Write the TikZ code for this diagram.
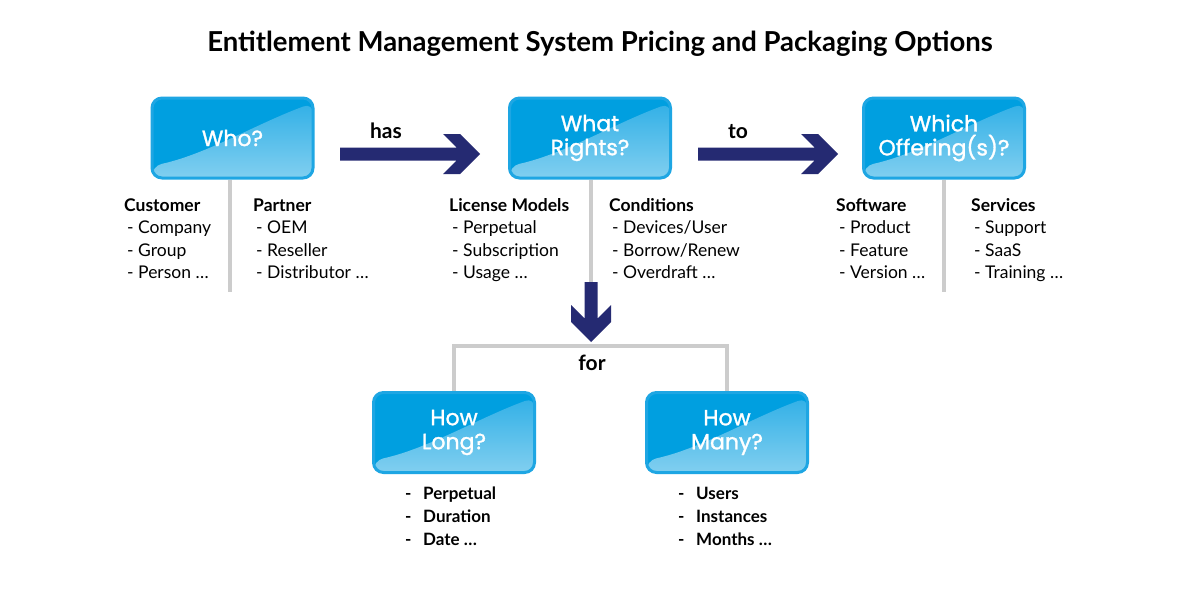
\documentclass[tikz,border=0pt]{standalone}
\usepackage{fontspec}
\setmainfont{Lato}
\newfontfamily\boxfont{Poppins}[FakeBold=1.3]
\usetikzlibrary{positioning,backgrounds}
\definecolor{boxblue}{HTML}{009FE0}
\definecolor{boxedge}{HTML}{1EA6E3}
\definecolor{glosstop}{HTML}{2CAEE6}
\definecolor{glossbot}{HTML}{84D0F0}
\definecolor{arrowblue}{HTML}{252A72}
\definecolor{stemgray}{HTML}{CCCCCC}
\def\makefatarrow#1#2{
  \begin{scope}[#1]
    \fill[arrowblue] (0,-6.5) -- (#2-23.5,-6.5) -- (#2-37,-20) -- (#2-20,-20)
      -- (#2,0) -- (#2-20,20) -- (#2-37,20) -- (#2-23.5,6.5) -- (0,6.5) -- cycle;
  \end{scope}
}
\tikzset{
  question/.style={draw=boxedge, line width=3pt, fill=boxblue, rounded corners=10pt,
    minimum width=161pt, minimum height=80pt, text=white, align=center,
    font=\boxfont\fontsize{22}{24}\selectfont,
    path picture={
      \fill[top color=glosstop, bottom color=glossbot]
        ([yshift=-3pt]path picture bounding box.south west)
        -- ([yshift=12pt]path picture bounding box.south west)
        .. controls +(55pt,12pt) and +(-55pt,-20pt) .. ([yshift=-5pt]path picture bounding box.north east)
        -- ([yshift=-3pt]path picture bounding box.south east) -- cycle;
    }},
  stem/.style={stemgray, line width=4pt},
  listcol/.style={anchor=north west, align=left, inner sep=0pt,
    font=\fontsize{17.5}{22.5}\selectfont},
  boldcol/.style={anchor=north west, align=left, inner sep=0pt,
    font=\bfseries\fontsize{17}{23}\selectfont},
  verb/.style={anchor=base, inner sep=0pt, font=\bfseries\fontsize{21}{24}\selectfont}
}
\def\dash{\makebox[18pt][l]{-}}
\begin{document}
\begin{tikzpicture}[x=1pt, y=-1pt]
  \begin{scope}[on background layer]
    \path[use as bounding box, fill=white] (0,0) rectangle (1200,600);
  \end{scope}

  \node[anchor=base, font=\bfseries\fontsize{27.5}{30}\selectfont] (title) at (600,51)
    {Entitlement Management System Pricing and Packaging Options};

  % the questions
  \node[question] (who) at (232.5,138) {Who?};
  \node[question] (rights) at (590,138) {What\\Rights?};
  \node[question] (offering) at (944,138) {Which\\Offering(s)?};
  \node[question] (howlong) at (454,432.5) {How\\Long?};
  \node[question] (howmany) at (727,432.5) {How\\Many?};

  \coordinate (whoend) at (230,292);
  \coordinate (rightsend) at (591,282);
  \coordinate (offeringend) at (944,292);
  \coordinate (forjoin) at (591,346);
  \coordinate (hasfrom) at (340,154);
  \coordinate (tofrom) at (698,154);

  \begin{scope}[on background layer]
    \draw[stem] (who.south -| whoend) -- (whoend);
    \draw[stem] (rights.south -| rightsend) -- (rightsend);
    \draw[stem] (offering.south -| offeringend) -- (offeringend);
    \draw[stem] (howlong.north) |- (forjoin) -| (howmany.north);
  \end{scope}

  % fat arrows
  \makefatarrow{shift={(hasfrom)}}{140}
  \makefatarrow{shift={(tofrom)}}{140}
  \makefatarrow{shift={(rightsend)},rotate=-90}{60}

  \node[verb] (has) at (386,138) {has};
  \node[verb] (to) at (738,138) {to};
  \node[verb] (for) at (592,370) {for};

  % the lists
  \node[listcol] (customer) at (124,195.25)
    {\strut\textbf{Customer}\\\hspace{3pt}- Company\\\hspace{3pt}- Group\\\hspace{3pt}- Person …};
  \node[listcol] (partner) at (253,195.25)
    {\strut\textbf{Partner}\\\hspace{3pt}- OEM\\\hspace{3pt}- Reseller\\\hspace{3pt}- Distributor …};
  \node[listcol] (licmodels) at (449,195.25)
    {\strut\textbf{License Models}\\\hspace{3pt}- Perpetual\\\hspace{3pt}- Subscription\\\hspace{3pt}- Usage …};
  \node[listcol] (conditions) at (609,195.25)
    {\strut\textbf{Conditions}\\\hspace{3pt}- Devices/User\\\hspace{3pt}- Borrow/Renew\\\hspace{3pt}- Overdraft …};
  \node[listcol] (software) at (836,195.25)
    {\strut\textbf{Software}\\\hspace{3pt}- Product\\\hspace{3pt}- Feature\\\hspace{3pt}- Version …};
  \node[listcol] (services) at (971,195.25)
    {\strut\textbf{Services}\\\hspace{3pt}- Support\\\hspace{3pt}- SaaS\\\hspace{3pt}- Training …};

  \node[boldcol] (longlist) at (405,482.9)
    {\strut\dash Perpetual\\\dash Duration\\\dash Date …};
  \node[boldcol] (manylist) at (678,482.9)
    {\strut\dash Users\\\dash Instances\\\dash Months …};
\end{tikzpicture}
\end{document}
